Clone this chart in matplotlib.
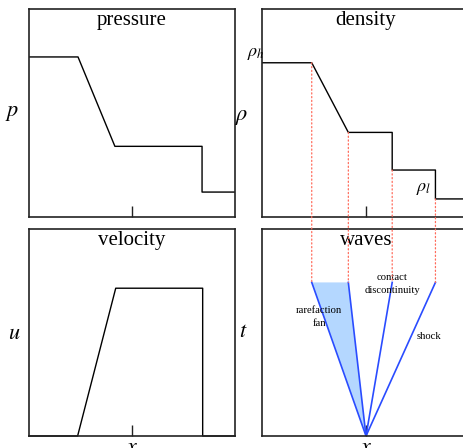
import matplotlib
matplotlib.use('Agg')
from matplotlib import pyplot as plt
from matplotlib.patches import ConnectionPatch

plt.rcParams['font.family'] = ['Liberation Serif', 'DejaVu Serif']
plt.rcParams['mathtext.fontset'] = 'stix'

# Riemann problem profiles (x scaled 0..1, origin of the fan at 0.5)
x_p = [0, 0.238, 0.417, 0.84, 0.84, 1]
p = [0.77, 0.77, 0.34, 0.34, 0.12, 0.12]

x_rho = [0, 0.239, 0.415, 0.626, 0.626, 0.834, 0.834, 1]
rho = [0.742, 0.742, 0.407, 0.407, 0.226, 0.226, 0.087, 0.087]

x_u = [0, 0.236, 0.421, 0.843, 0.843, 1]
u = [0, 0, 0.714, 0.714, 0, 0]

# wave heads in the x-t plane
x0 = 0.5
wave_x = [0.239, 0.415, 0.626, 0.834]
t_top = 0.742
rho_at_wave = [0.742, 0.407, 0.226, 0.087]

fig = plt.figure(figsize=(4.63, 4.48), dpi=100)
ax_p = fig.add_axes([0.0626, 0.5156, 0.445, 0.464])
ax_r = fig.add_axes([0.566, 0.5156, 0.449, 0.464])
ax_u = fig.add_axes([0.0626, 0.0268, 0.445, 0.462])
ax_w = fig.add_axes([0.566, 0.0268, 0.449, 0.462])

for ax in [ax_p, ax_r, ax_u, ax_w]:
    ax.set_xlim(0, 1)
    ax.set_ylim(0, 1)
    ax.set_xticks([0.5])
    ax.set_xticklabels([])
    ax.set_yticks([])
    ax.tick_params(direction='in', length=8, width=1, colors='#222222')
    for s in ax.spines.values():
        s.set_color('#222222')
        s.set_linewidth(1.2)

ax_p.plot(x_p, p, color='black', lw=1.0)
ax_r.plot(x_rho, rho, color='black', lw=1.0)
ax_u.plot(x_u, u, color='black', lw=1.0, clip_on=False)

titles = [(ax_p, 'pressure'), (ax_r, 'density'), (ax_u, 'velocity'), (ax_w, 'waves')]
for ax, ttl in titles:
    ax.text(0.5, 0.925, ttl, transform=ax.transAxes, ha='center', va='baseline', fontsize=15)

ylabs = [(ax_p, '$p$', -0.08, 0.5), (ax_r, r'$\rho$', -0.096, 0.48),
         (ax_u, '$u$', -0.073, 0.49), (ax_w, '$t$', -0.09, 0.5)]
for ax, lab, xx, yy in ylabs:
    ax.text(xx, yy, lab, transform=ax.transAxes, ha='center', va='center', fontsize=16)

for ax in [ax_u, ax_w]:
    ax.text(0.5, -0.015, '$x$', transform=ax.transAxes, ha='center', va='top', fontsize=16)

ax_r.text(-0.072, 0.774, r'$\rho_h$', ha='left', va='baseline', fontsize=13, clip_on=False)
ax_r.text(0.739, 0.125, r'$\rho_l$', ha='left', va='baseline', fontsize=13)

# waves panel
blue = '#2a4cff'
ax_w.fill([x0, wave_x[0], wave_x[1]], [0, t_top, t_top], color='#b4d7ff', lw=0)
for wx in wave_x:
    ax_w.plot([x0, wx], [0, t_top], color=blue, lw=1.2)

ax_w.text(0.626, 0.735, 'contact\ndiscontinuity', ha='center', va='center',
          fontsize=7.7, linespacing=1.5)
ax_w.text(0.275, 0.575, 'rarefaction\nfan', ha='center', va='center',
          fontsize=7.7, linespacing=1.5)
ax_w.text(0.805, 0.48, 'shock', ha='center', va='center', fontsize=7.7)

# dotted guides from density profile down to the wave heads
for wx, r in zip(wave_x, rho_at_wave):
    con = ConnectionPatch(xyA=(wx, r), coordsA=ax_r.transData,
                          xyB=(wx, t_top), coordsB=ax_w.transData,
                          color='#ff6b5b', lw=0.9, linestyle=(0, (1, 2)))
    fig.add_artist(con)

plt.savefig('out.png', dpi=100)
